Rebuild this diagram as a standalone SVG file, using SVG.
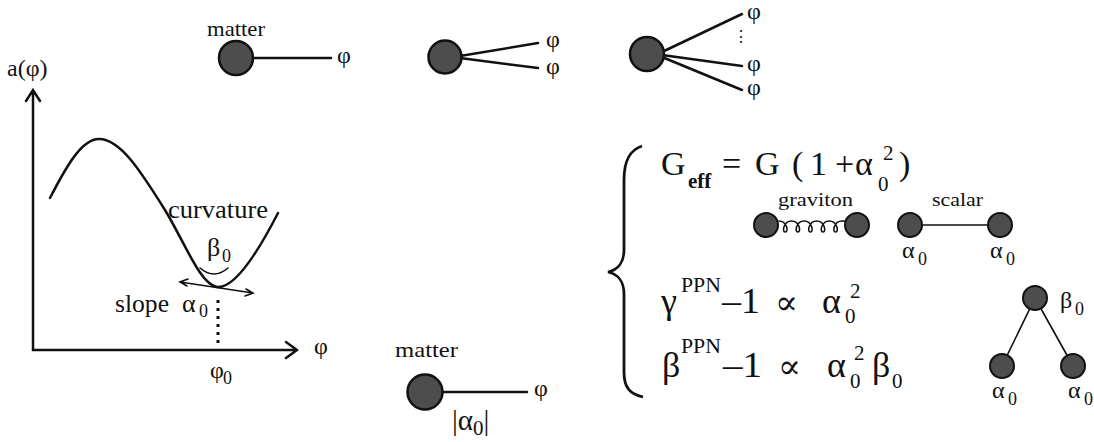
<svg xmlns="http://www.w3.org/2000/svg" width="1094" height="442" viewBox="0 0 1094 442" font-family="'Liberation Serif', 'Times New Roman', 'DejaVu Serif', serif">
<style>
text{font-family:'Liberation Serif','Times New Roman','DejaVu Serif',serif;fill:#111;}
.t22{font-size:22px}
.t24{font-size:24px}
.t26{font-size:26px}
.sub{font-size:18px}
.eq{font-size:34px}
.eq2{font-size:36px}
.eqs{font-size:21px}
.prop{font-size:34px}
.ln{stroke:#111;stroke-width:2.5;fill:none;stroke-linecap:round}
.thin{stroke:#111;stroke-width:1.6;fill:none;stroke-linecap:round}
.blob{fill:#4d4d4d;stroke:#111;stroke-width:2.5}
.sblob{fill:#4d4d4d;stroke:#111;stroke-width:2}
</style>
<rect width="1094" height="442" fill="#fff"/>

<g id="plot">
  <path class="ln" d="M33,350 L33,90 M26,101 L33,90 L40,101"/>
  <path class="ln" d="M33,350 L297,350 M286,342 L297,350 L286,358"/>
  <text class="t24" x="7" y="76">a(φ)</text>
  <text class="t24" x="314" y="354">φ</text>
  <path class="ln" d="M50,198 C67,165 82,139 99,139 C120,139 140,170 165,210 C185,243 200,284 217,287 C235,289 258,252 278,213"/>
  <text class="t26" x="168" y="218" textLength="100" lengthAdjust="spacingAndGlyphs">curvature</text>
  <text class="t26" x="207" y="256">β</text><text class="sub" x="222" y="262">0</text>
  <path class="thin" d="M200,268 Q214,280 228,268"/>
  <path class="thin" d="M180,282 L253,293 M188,279 L180,282 L187,286 M246,289 L253,293 L245,296"/>
  <text class="t26" x="115" y="312" textLength="54" lengthAdjust="spacingAndGlyphs">slope</text>
  <text class="t26" x="182" y="312">α</text><text class="sub" x="199" y="317">0</text>
  <path d="M218,300 L218,346" stroke="#111" stroke-width="3" stroke-dasharray="3 5" fill="none"/>
  <text class="t24" x="210" y="378">φ</text><text class="sub" x="223" y="384">0</text>
</g>

<g id="vertex1">
  <text class="t22" x="207" y="36" textLength="58" lengthAdjust="spacingAndGlyphs">matter</text>
  <line class="ln" x1="254" y1="58" x2="331" y2="58"/>
  <circle class="blob" cx="236" cy="58" r="17"/>
  <text class="t24" x="337" y="63">φ</text>
</g>

<g id="vertex2">
  <path class="ln" d="M460,56 L538,43 M460,58 L538,68"/>
  <circle class="blob" cx="445" cy="57" r="16.5"/>
  <text class="t24" x="546" y="47">φ</text>
  <text class="t24" x="546" y="74">φ</text>
</g>

<g id="vertex3">
  <path class="ln" d="M662,52 L742,14 M662,55 L742,66 M662,57 L742,90"/>
  <circle class="blob" cx="647" cy="54" r="17"/>
  <text class="t24" x="747" y="19">φ</text>
  <text x="733" y="42" style="font-size:16px">⋮</text>
  <text class="t24" x="747" y="71">φ</text>
  <text class="t24" x="747" y="95">φ</text>
</g>

<g id="vertex4">
  <text class="t22" x="395" y="357" textLength="63" lengthAdjust="spacingAndGlyphs">matter</text>
  <line class="ln" x1="442" y1="392" x2="527" y2="392"/>
  <circle class="blob" cx="425" cy="392" r="17.5"/>
  <text class="t24" x="534" y="396">φ</text>
  <text style="font-size:29px" x="452" y="430">|α<tspan style="font-size:21px" dy="5">0</tspan><tspan dy="-5">|</tspan></text>
</g>

<g id="brace">
  <path d="M642,146 C630,150 624,160 624,180 L624,250 C624,262 618,270 608,272 C618,274 624,282 624,294 L624,372 C624,388 630,394 643,397" stroke="#111" stroke-width="2.8" fill="none"/>
</g>

<g id="eq-geff">
  <text class="eq" x="661" y="175">G</text>
  <text x="688" y="188" style="font-size:21px;font-weight:bold">eff</text>
  <text class="eq" x="722" y="175">=</text>
  <text class="eq" x="755" y="175">G</text>
  <text class="eq" x="792" y="175">(</text>
  <text class="eq" x="810" y="175">1</text>
  <text class="eq" x="835" y="175">+</text>
  <text class="eq" x="855" y="175">α</text>
  <text class="eqs" x="878" y="191">0</text>
  <text class="eqs" x="883" y="160">2</text>
  <text class="eq" x="899" y="175">)</text>
</g>

<g id="graviton">
  <text x="778" y="206" style="font-size:19px" textLength="75" lengthAdjust="spacingAndGlyphs">graviton</text>
  <path class="thin" d="M779,221 c7.85,0 9.94,11 6.28,11 c-3.66,0 -1.56,-11 6.29,-11 c7.85,0 9.94,11 6.28,11 c-3.66,0 -1.56,-11 6.29,-11 c7.85,0 9.94,11 6.28,11 c-3.66,0 -1.56,-11 6.29,-11 c7.85,0 9.94,11 6.28,11 c-3.66,0 -1.56,-11 6.29,-11 c7.85,0 9.94,11 6.28,11 c-3.66,0 -1.56,-11 6.29,-11 L845,221"/>
  <circle class="sblob" cx="766" cy="225" r="12"/>
  <circle class="sblob" cx="857" cy="225" r="12"/>
</g>

<g id="scalar">
  <text x="932" y="206" style="font-size:19px" textLength="51" lengthAdjust="spacingAndGlyphs">scalar</text>
  <line class="thin" x1="910" y1="225" x2="1000" y2="225"/>
  <circle class="sblob" cx="910" cy="225" r="12"/>
  <circle class="sblob" cx="1000" cy="225" r="12"/>
  <text class="t24" x="902" y="258">α</text><text class="sub" x="918" y="265">0</text>
  <text class="t24" x="990" y="258">α</text><text class="sub" x="1006" y="265">0</text>
</g>

<g id="eq-gamma">
  <text class="eq2" x="661" y="313">γ</text>
  <text x="681" y="292" style="font-size:20px" textLength="40" lengthAdjust="spacingAndGlyphs">PPN</text>
  <text class="eq2" x="722" y="313" textLength="38" lengthAdjust="spacingAndGlyphs">–1</text>
  <text class="prop" x="775" y="314">∝</text>
  <text class="eq2" x="822" y="313">α</text>
  <text class="eqs" x="845" y="323">0</text>
  <text class="eqs" x="850" y="298">2</text>
</g>

<g id="eq-beta">
  <text class="eq2" x="662" y="377">β</text>
  <text x="681" y="353" style="font-size:20px" textLength="40" lengthAdjust="spacingAndGlyphs">PPN</text>
  <text class="eq2" x="723" y="377" textLength="39" lengthAdjust="spacingAndGlyphs">–1</text>
  <text class="prop" x="778" y="378">∝</text>
  <text class="eq2" x="827" y="377">α</text>
  <text class="eqs" x="850" y="388">0</text>
  <text class="eqs" x="854" y="360">2</text>
  <text class="eq2" x="872" y="377">β</text>
  <text class="eqs" x="892" y="388">0</text>
</g>

<g id="tree">
  <path class="thin" d="M1035,298 L1002,366 M1035,298 L1073,366"/>
  <circle class="sblob" cx="1035" cy="298" r="12"/>
  <circle class="sblob" cx="1002" cy="366" r="12"/>
  <circle class="sblob" cx="1073" cy="366" r="12"/>
  <text class="t24" x="1060" y="308">β</text><text class="sub" x="1075" y="315">0</text>
  <text class="t24" x="992" y="398">α</text><text class="sub" x="1008" y="405">0</text>
  <text class="t24" x="1068" y="398">α</text><text class="sub" x="1084" y="405">0</text>
</g>
</svg>
